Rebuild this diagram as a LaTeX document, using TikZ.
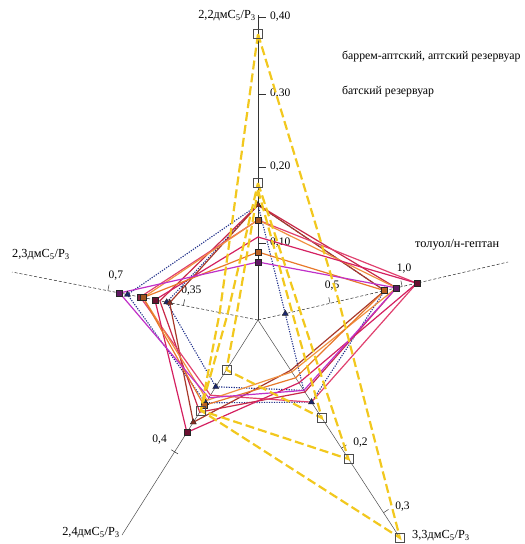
\documentclass[tikz,border=0pt]{standalone}
\usepackage{fontspec}
\setmainfont{Liberation Serif}
\usetikzlibrary{calc,shapes.geometric}
\definecolor{cmag}{HTML}{C030C8}
\definecolor{corange}{HTML}{E8782A}
\definecolor{ccrim}{HTML}{D42060}
\definecolor{cbrown}{HTML}{A8382A}
\definecolor{cpink}{HTML}{E0406E}
\definecolor{cred}{HTML}{C82848}
\definecolor{corange2}{HTML}{F09040}
\definecolor{cnavy}{HTML}{20308A}
\definecolor{cyel}{HTML}{F2C81E}
\newcommand{\serie}[7]{%
  \coordinate (#1t) at ($(C)!#3pt!(T)$);
  \coordinate (#1r) at ($(C)!#4pt!(R)$);
  \coordinate (#1br) at ($(C)!#5pt!(BR)$);
  \coordinate (#1bl) at ($(C)!#6pt!(BL)$);
  \coordinate (#1l) at ($(C)!#7pt!(L)$);
  \draw[#2] (#1t) -- (#1r) -- (#1br) -- (#1bl) -- (#1l) -- cycle;
}
\newcommand{\putmarks}[3]{\foreach \s in {#3} {\node[#2] (#1m\s) at (#1\s) {};}}
\begin{document}
\begin{tikzpicture}[x=1pt,y=-1pt,
  axisline/.style={line width=0.5pt, black!80},
  axisdash/.style={line width=0.5pt, black!85, dash pattern=on 3pt off 2pt},
  ticklab/.style={font=\fontsize{11.5}{12}\selectfont, inner sep=1pt},
  axlab/.style={font=\fontsize{12.3}{14}\selectfont, inner sep=1pt},
  leglab/.style={font=\fontsize{11.8}{14}\selectfont, inner sep=1pt},
  solidser/.style={line width=1.2pt, line join=round},
  dotser/.style={line width=1.1pt, cnavy, dash pattern=on 1.2pt off 1.3pt},
  yelser/.style={line width=2.2pt, cyel, dash pattern=on 9pt off 4pt},
  sq/.style={rectangle, draw=black!85, fill=#1, minimum size=6pt, inner sep=0pt, line width=0.5pt},
  tri/.style={regular polygon, regular polygon sides=3, draw=black!85, fill=#1, minimum size=7pt, inner sep=0pt, line width=0.4pt},
  ysq/.style={rectangle, draw=black!70, minimum size=9pt, inner sep=0pt, line width=0.6pt}]
\useasboundingbox (0,0) rectangle (525,544);
\coordinate (C) at (258,320);
\coordinate (T) at (258,15);
\coordinate (R) at (508,262);
\coordinate (BR) at (400,538);
\coordinate (BL) at (122,535);
\coordinate (L) at (12,272);
% axes
\draw[axisline] (C) -- (T);
\draw[axisdash] (C) -- (R);
\draw[axisline, black!70] (C) -- (BR);
\draw[axisline, black!70] (C) -- (BL);
\draw[axisdash] (C) -- (L);
% top ticks
\foreach \d/\lab in {303/{0,40}, 226/{0,30}, 153/{0,20}, 77/{0,10}} {
  \coordinate (tk) at ($(C)!\d pt!(T)$);
  \draw[axisline] (tk) -- ++(8,0);
  \node[ticklab, anchor=west] at ($(tk)+(11,0)$) {\lab};
}
% left ticks
\foreach \d/\lab in {153/{0,7}, 76/{0,35}} {
  \coordinate (tk) at ($(C)!\d pt!(L)$);
  \draw[axisline] (tk) -- ++(1.2,-6);
  \node[ticklab] at ($(tk)+(8,-15)$) {\lab};
}
% right ticks
\foreach \d/\lab in {74/{0,5}, 148/{1,0}} {
  \coordinate (tk) at ($(C)!\d pt!(R)$);
  \draw[axisline] (tk) -- ++(-1.3,-6);
  \node[ticklab] at ($(tk)+(2,-18)$) {\lab};
}
% bottom-left tick
\coordinate (tkbl) at ($(C)!156pt!(BL)$);
\draw[axisline] ($(tkbl)+(-3.4,-2.1)$) -- ($(tkbl)+(3.4,2.1)$);
\node[ticklab] at ($(tkbl)+(-15,-12)$) {0,4};
% bottom-right ticks
\foreach \d/\lab in {153/{0,2}, 230/{0,3}} {
  \coordinate (tk) at ($(C)!\d pt!(BR)$);
  \draw[axisline] (tk) -- ++(5,-3.3);
  \node[ticklab] at ($(tk)+(19,-6)$) {\lab};
}
% axis labels
\node[axlab, anchor=east] (lab1) at (257,16) {2,2дмC\textsubscript{5}/P\textsubscript{3}};
\node[axlab, anchor=west] (lab2) at (414,245) {толуол/н-гептан};
\node[axlab, anchor=west] (lab3) at (411,536) {3,3дмC\textsubscript{5}/P\textsubscript{3}};
\node[axlab, anchor=east] (lab4) at (121,533) {2,4дмC\textsubscript{5}/P\textsubscript{3}};
\node[axlab, anchor=west] (lab5) at (11,255) {2,3дмC\textsubscript{5}/P\textsubscript{3}};
% legend
\node[leglab, anchor=west] (leg1) at (341,57) {баррем-аптский, аптский резервуар};
\node[leglab, anchor=west] (leg2) at (341,92) {батский резервуар};
% dotted navy series
\serie{NA}{dotser}{115}{130}{98}{98}{133}
\serie{NB}{dotser}{115}{28}{84}{79}{93}
% solid series
\serie{SB}{solidser, cbrown}{115}{130}{60}{121}{90}
\serie{SR}{solidser, cred}{115}{142}{86}{109}{100}
\serie{SP}{solidser, cpink}{100}{163}{98}{89}{120}
\serie{SO}{solidser, corange2}{100}{142}{62}{95}{117}
\serie{SC}{solidser, ccrim}{83}{163}{75}{133}{105}
\serie{SO2}{solidser, corange}{68}{130}{69}{101}{117}
\serie{SM}{solidser, cmag}{58}{142}{84}{92}{141}
% markers
\putmarks{NA}{tri=cnavy!80!black}{t,r,br,bl,l}
\putmarks{NB}{tri=cnavy!80!black}{r,bl,l}
\putmarks{SB}{tri=cbrown!80!black}{t,bl,l}
\putmarks{SP}{sq=cpink!60!black}{t,r,l}
\putmarks{SO}{sq=corange!70!black}{t,l}
\putmarks{SC}{sq=ccrim!50!black}{r,bl,l}
\putmarks{SO2}{sq=corange!80!black}{t,r,bl}
\putmarks{SM}{sq=cmag!50!black}{t,r,l}
% yellow dashed series
\serie{YA}{yelser}{286}{83}{260}{107}{39}
\serie{YB}{yelser}{137}{43}{166}{107}{31}
\serie{YC}{yelser}{130}{35}{117}{59}{22}
\putmarks{YA}{ysq}{t,br,bl}
\putmarks{YB}{ysq}{t,br}
\putmarks{YC}{ysq}{br,bl}
\end{tikzpicture}
\end{document}
